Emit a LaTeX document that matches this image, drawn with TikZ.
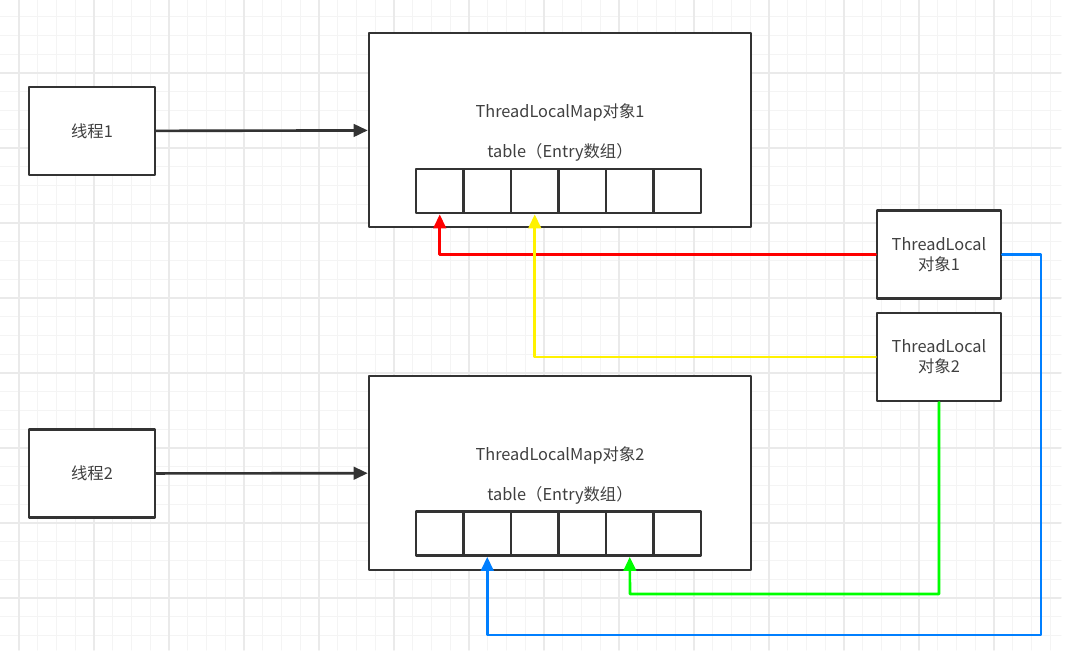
\documentclass[tikz,border=0pt]{standalone}
\usepackage{fontspec}
\setmainfont{Noto Sans CJK SC}
\usetikzlibrary{arrows.meta}
\definecolor{boxline}{HTML}{333333}
\definecolor{boxtext}{HTML}{404040}
\definecolor{gridminor}{HTML}{F4F4F4}
\definecolor{gridmajor}{HTML}{EAEAEA}
\definecolor{refblue}{HTML}{007FFF}
\begin{document}
\begin{tikzpicture}[x=0.02cm, y=-0.02cm, line cap=round, line join=round,
    font=\fontsize{9.3}{11.5}\selectfont, text=boxtext,
    box/.style={draw=boxline, line width=1.5pt, fill=white, align=center, inner sep=0pt},
    threadbox/.style={box, minimum width=2.52cm, minimum height=1.76cm},
    mapbox/.style={box, minimum width=7.64cm, minimum height=3.88cm},
    localbox/.style={box, minimum width=2.48cm, minimum height=1.76cm},
    cell/.style={draw=boxline, line width=1.5pt, minimum width=0.95cm, minimum height=0.88cm, inner sep=0pt},
    link/.style={line width=1.5pt, -{Triangle[length=0.28cm, width=0.25cm]}}]
    \useasboundingbox (0,0) rectangle (1071,656);
    % grid
    \foreach \gx in {0,...,55} { \draw[gridminor, line width=0.6pt] (19+18.75*\gx,0) -- (19+18.75*\gx,650); }
    \foreach \gy in {0,...,33} { \draw[gridminor, line width=0.6pt] (0,16.7+18.75*\gy) -- (1061,16.7+18.75*\gy); }
    \foreach \gx in {0,...,13} { \draw[gridmajor, line width=0.6pt] (19+75*\gx,0) -- (19+75*\gx,650); }
    \foreach \gy in {0,...,8} { \draw[gridmajor, line width=0.6pt] (0,73+75*\gy) -- (1061,73+75*\gy); }

    % threads
    \node[threadbox] (thread1) at (92,131) {线程1};
    \node[threadbox] (thread2) at (92,473.5) {线程2};

    % maps
    \node[mapbox] (map1) at (560,130) {};
    \node[mapbox] (map2) at (560,473) {};
    \node (map1title) at (560,112) {ThreadLocalMap对象1};
    \node (map1table) at (560,152) {table（Entry数组）};
    \node (map2title) at (560,455) {ThreadLocalMap对象2};
    \node (map2table) at (560,495) {table（Entry数组）};
    \foreach \i in {1,...,6} {
      \node[cell] (c1-\i) at (392.25+47.5*\i,191) {};
      \node[cell] (c2-\i) at (392.25+47.5*\i,533.5) {};
    }

    % thread locals
    \node[localbox] (tl1) at (939,254.5) {ThreadLocal\\对象1};
    \node[localbox] (tl2) at (939,357) {ThreadLocal\\对象2};

    % links
    \draw[link, boxline] (thread1) -- (map1);
    \draw[link, boxline] (thread2) -- (map2);
    \draw[link, red] (tl1.west) -| (c1-1.south);
    \draw[link, yellow] (tl2.west) -| (c1-3.south);
    \coordinate (greenturn) at (630,594);
    \draw[link, green] (tl2.south) |- (greenturn) -- (c2-5.south);
    \coordinate (blueturn) at (1041,635);
    \draw[link, refblue] (tl1.east) -| (blueturn) -| (c2-2.south);
\end{tikzpicture}
\end{document}
